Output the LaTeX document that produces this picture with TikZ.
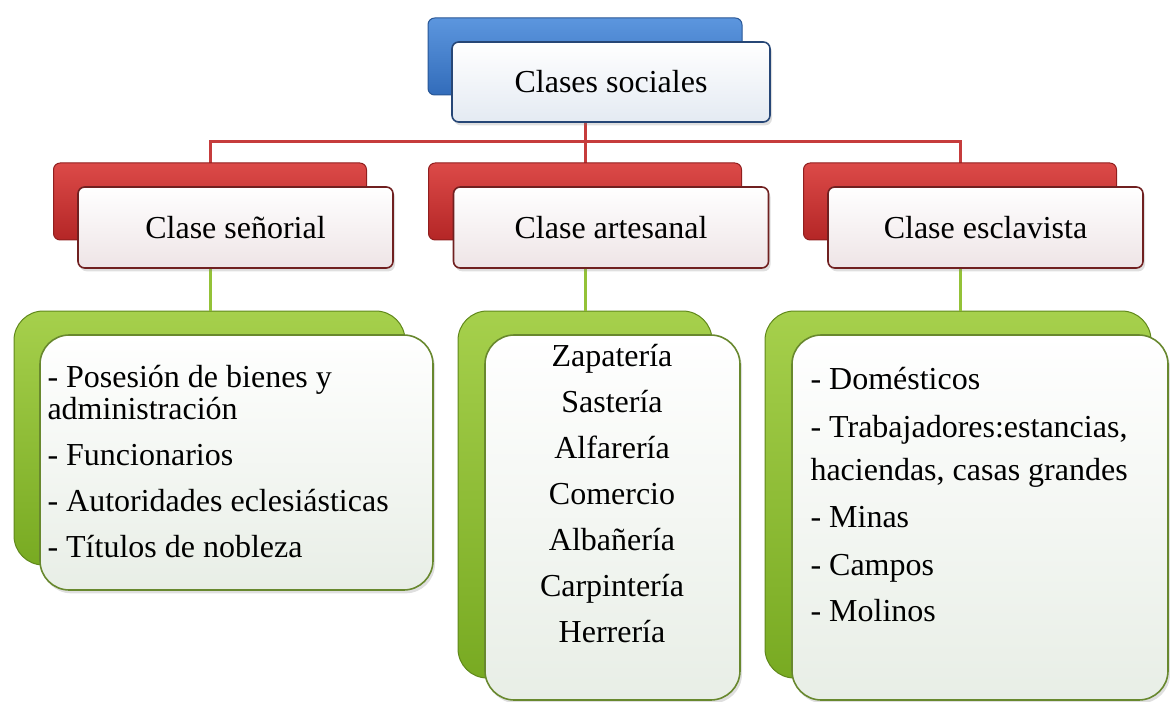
\documentclass[tikz,border=0pt]{standalone}
\usepackage{fontspec}
\setmainfont{Liberation Serif}
\usetikzlibrary{shadows}

\definecolor{bluetop}{RGB}{92,150,222}
\definecolor{bluebot}{RGB}{50,108,186}
\definecolor{blueedge}{RGB}{38,70,118}
\definecolor{redtop}{RGB}{220,74,72}
\definecolor{redbot}{RGB}{180,38,38}
\definecolor{rededge}{RGB}{112,32,32}
\definecolor{greentop}{RGB}{166,208,76}
\definecolor{greenbot}{RGB}{120,170,34}
\definecolor{greenedge}{RGB}{104,136,46}
\definecolor{bluepaper}{RGB}{228,234,242}
\definecolor{redpaper}{RGB}{238,228,230}
\definecolor{greenpaper}{RGB}{232,238,230}
\definecolor{redlink}{RGB}{198,60,60}
\definecolor{greenlink}{RGB}{148,194,56}

\tikzset{every picture/.style={line width=0.75pt}}
\tikzset{
  box/.style={inner sep=0pt, outer sep=0pt, rounded corners=5pt},
  bluehead/.style={box, draw=bluebot!80!black, top color=bluetop, bottom color=bluebot},
  redhead/.style={box, draw=redbot!80!black, top color=redtop, bottom color=redbot},
  greenhead/.style={box, rounded corners=22pt, draw=greenbot!80!black, top color=greentop, bottom color=greenbot},
  card/.style={box, line width=1.2pt, top color=white, drop shadow={shadow xshift=1.5pt, shadow yshift=-2.5pt, opacity=0.25},
    font=\fontsize{24pt}{34.5pt}\selectfont},
  bluecard/.style={card, draw=blueedge, bottom color=bluepaper},
  redcard/.style={card, draw=rededge, bottom color=redpaper},
  greencard/.style={card, rounded corners=22pt, draw=greenedge, bottom color=greenpaper},
  listtext/.style={inner sep=0pt, font=\fontsize{24pt}{34.5pt}\selectfont},
  redline/.style={draw=redlink, line width=2.25pt},
  greenline/.style={draw=greenlink, line width=2.25pt},
}

\begin{document}
\begin{tikzpicture}[x=0.75pt,y=0.75pt,yscale=-1,xscale=1]
\useasboundingbox (0,0) rectangle (1170,702);

%Straight Lines: links between the levels
\coordinate (bus) at (585,142);
\draw [redline] (585,90) -- (bus);
\draw [redline] (210,200) |- (bus) -| (960,200);
\draw [redline] (bus) -- (585,200);

%Shape: back boxes, second level
\node (lordback) [redhead, minimum width=234.75pt, minimum height=57.75pt] at (210,201.5) {};
\node (craftback) [redhead, minimum width=234.75pt, minimum height=57.75pt] at (585,201.5) {};
\node (slaveback) [redhead, minimum width=234.75pt, minimum height=57.75pt] at (960,201.5) {};

%Shape: back boxes, lists
\node (lordlistback) [greenhead, minimum width=293.25pt, minimum height=190.5pt] at (209.5,438) {};
\node (craftlistback) [greenhead, minimum width=190.5pt, minimum height=275.25pt] at (585,494.5) {};
\node (slavelistback) [greenhead, minimum width=289.5pt, minimum height=275.25pt] at (958,494.5) {};

\draw [greenline] (lordback.south) -- (lordback.south |- lordlistback.north);
\draw [greenline] (craftback.south) -- (craftback.south |- craftlistback.north);
\draw [greenline] (slaveback.south) -- (slaveback.south |- slavelistback.north);

%Shape: top box
\node (socback) [bluehead, minimum width=235.5pt, minimum height=57.75pt] at (585,56.5) {};
\node (soc) [bluecard, minimum width=238.5pt, minimum height=60pt] at (611,82) {Clases sociales};

%Shape: front boxes, second level
\node (lord) [redcard, minimum width=236.25pt, minimum height=60.75pt] at (235.5,227.5) {Clase señorial};
\node (craft) [redcard, minimum width=236.25pt, minimum height=60.75pt] at (611,227.5) {Clase artesanal};
\node (slave) [redcard, minimum width=236.25pt, minimum height=60.75pt] at (985.5,227.5) {Clase esclavista};

%Shape: front boxes, lists
\node (lordlist) [greencard, minimum width=294.75pt, minimum height=191.25pt] at (236.5,462.5) {};
\node (craftlist) [greencard, minimum width=191.25pt, minimum height=273.75pt] at (612.5,517.5) {};
\node (slavelist) [greencard, minimum width=282pt, minimum height=273.75pt] at (980,517.5) {};

% Text Node
\node (lordtext) [listtext, anchor=north west, align=left] at (47,365) {- Posesión de bienes y\\[-11pt]administración\\- Funcionarios\\- Autoridades eclesiásticas\\- Títulos de nobleza};
% Text Node
\node (crafttext) [listtext, anchor=north, align=center] at (612,344) {Zapatería\\Sastería\\Alfarería\\Comercio\\Albañería\\Carpintería\\Herrería};
% Text Node
\node (slavetext) [listtext, anchor=north west, align=left] at (810,367) {- Domésticos\\[1pt]- Trabajadores:estancias,\\[-2pt]haciendas, casas grandes\\[1pt]- Minas\\[1pt]- Campos\\- Molinos};

\end{tikzpicture}
\end{document}
